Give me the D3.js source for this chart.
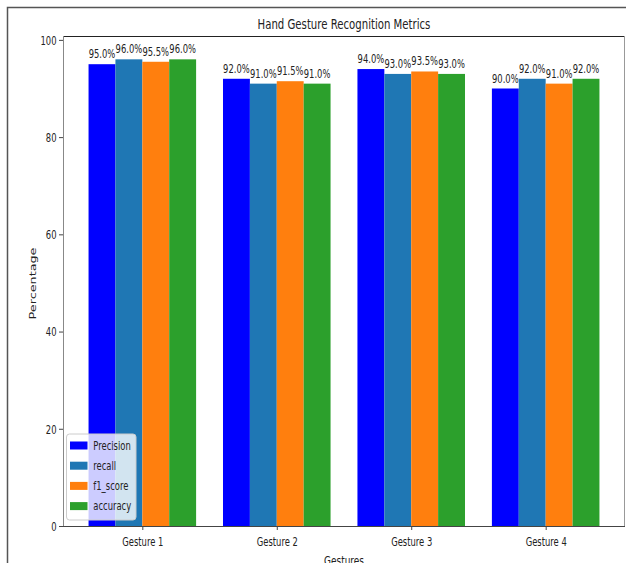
<!DOCTYPE html>
<html>
<head>
<meta charset="utf-8">
<script src="https://cdn.jsdelivr.net/npm/d3@7"></script>
<style>
  html, body { margin: 0; padding: 0; background: #fff; }
  svg { display: block; }
  text { font-family: "DejaVu Sans", sans-serif; fill: #222; }
</style>
</head>
<body>
<svg id="chart" width="626" height="563"></svg>
<script>
const categories = ["Gesture 1", "Gesture 2", "Gesture 3", "Gesture 4"];
const seriesNames = ["Precision", "recall", "f1_score", "accuracy"];
const precision = [95.0, 92.0, 94.0, 90.0];
const recall = [96.0, 91.0, 93.0, 92.0];
const f1_score = [95.5, 91.5, 93.5, 91.0];
const accuracy = [96.0, 91.0, 93.0, 92.0];
const yTicks = [0, 20, 40, 60, 80, 100];
const seriesValues = [precision, recall, f1_score, accuracy];
const colors = ["#0000ff", "#1f77b4", "#ff7f0e", "#2ca02c"];

const SX = 0.7; // horizontal squeeze of the reference picture
const svg = d3.select("#chart");
const L = 63, R = 625, T = 36, B = 526;
const barW = 0.2;

const x = d3.scaleLinear().domain([-0.59, 3.59]).range([L, R]);
const y = d3.scaleLinear().domain([0, 100.8]).range([B, T]);

svg.append("rect").attr("width", 626).attr("height", 563).attr("fill", "#fff");

// outer frame
svg.append("path").attr("d", "M7.5,563 L7.5,7.5 L626,7.5")
  .attr("fill", "none").attr("stroke", "#555").attr("stroke-width", 1.5);

function txt(xp, yp, s, size, anchor, extra) {
  return svg.append("text")
    .attr("transform", `translate(${xp},${yp}) scale(${SX},1)` + (extra || ""))
    .attr("text-anchor", anchor || "middle")
    .attr("font-size", size)
    .text(s);
}

// bars
seriesValues.forEach((vals, si) => {
  const off = -0.3 + si * 0.2;
  svg.append("g").selectAll("rect").data(vals).join("rect")
    .attr("x", (d, i) => x(i + off - barW / 2))
    .attr("width", (d, i) => x(i + off + barW / 2) - x(i + off - barW / 2))
    .attr("y", d => y(d))
    .attr("height", d => y(0) - y(d))
    .attr("fill", colors[si]);
  vals.forEach((d, i) => {
    txt(x(i + off), y(d) - 6, d.toFixed(1) + "%", 12, "middle");
  });
});

// spines
svg.append("line").attr("x1", L).attr("x2", R).attr("y1", T + 0.5).attr("y2", T + 0.5).attr("stroke", "#222");
svg.append("line").attr("x1", L + 0.5).attr("x2", L + 0.5).attr("y1", T).attr("y2", B).attr("stroke", "#888");
svg.append("line").attr("x1", R - 0.5).attr("x2", R - 0.5).attr("y1", T).attr("y2", B).attr("stroke", "#999");

// y axis
const yAxis = svg.append("g").attr("transform", `translate(${L},0)`)
  .call(d3.axisLeft(y).tickValues(yTicks).tickSize(4).tickSizeOuter(0).tickFormat(d3.format("d")));
yAxis.select(".domain").remove();
yAxis.selectAll(".tick line").attr("stroke", "#444");
yAxis.selectAll(".tick text")
  .attr("x", null).attr("dy", null)
  .attr("transform", `translate(-6.5,4.3) scale(${SX},1)`)
  .attr("font-size", 12).attr("font-family", "DejaVu Sans").attr("fill", "#222");

// x axis
const xAxis = svg.append("g").attr("transform", `translate(0,${B})`)
  .call(d3.axisBottom(x).tickValues([0, 1, 2, 3]).tickSize(4).tickSizeOuter(0).tickFormat(i => categories[i]));
xAxis.select(".domain").attr("stroke", "#444").attr("d", `M${L},0.5H${R}`);
xAxis.selectAll(".tick line").attr("stroke", "#444");
xAxis.selectAll(".tick text")
  .attr("y", null).attr("dy", null)
  .attr("transform", `translate(0,20) scale(${SX},1)`)
  .attr("font-size", 12).attr("font-family", "DejaVu Sans").attr("fill", "#222");

// title & labels
txt((L + R) / 2, 28.5, "Hand Gesture Recognition Metrics", 14.5, "middle");
svg.append("text")
  .attr("transform", `translate(36,283.5) scale(${SX},1) rotate(-90)`)
  .attr("text-anchor", "middle").attr("font-size", 12.8)
  .text("Percentage");
txt(344, 565, "Gestures", 12.8, "middle");

// legend
const lg = svg.append("g");
lg.append("rect").attr("x", 66.5).attr("y", 434).attr("width", 69.5).attr("height", 86)
  .attr("rx", 3).attr("fill", "#fff").attr("fill-opacity", 0.8)
  .attr("stroke", "#ccc").attr("stroke-width", 1);
seriesNames.forEach((n, i) => {
  const cy = 445.5 + i * 20.2;
  lg.append("rect").attr("x", 70).attr("y", cy - 4).attr("width", 17.5).attr("height", 8).attr("fill", colors[i]);
  svg.append("text")
    .attr("transform", `translate(93.3,${cy + 4.3}) scale(${SX},1)`)
    .attr("text-anchor", "start").attr("font-size", 12)
    .text(n);
});
</script>
</body>
</html>
